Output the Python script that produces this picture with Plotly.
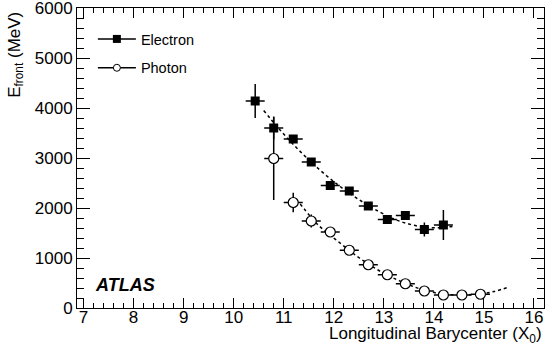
import plotly.graph_objects as go

# Electron points
ele_x = [10.43, 10.80, 11.19, 11.55, 11.93, 12.31, 12.69, 13.07, 13.43, 13.81, 14.19]
ele_y = [4140, 3600, 3380, 2920, 2450, 2340, 2040, 1770, 1850, 1570, 1660]
ele_ey = [340, 230, 80, 50, 50, 50, 60, 60, 80, 140, 300]

# Photon points
pho_x = [10.80, 11.19, 11.55, 11.93, 12.31, 12.69, 13.07, 13.43, 13.81, 14.19, 14.56, 14.93]
pho_y = [2990, 2110, 1740, 1520, 1155, 865, 665, 485, 340, 260, 260, 275]
pho_ey = [830, 195, 130, 60, 50, 40, 40, 30, 30, 30, 30, 30]

bin_half = 0.19

# fitted curves
ele_fit_x = [10.6, 10.9, 11.3, 11.7, 12.1, 12.5, 12.9, 13.2, 13.5, 13.8, 14.1, 14.37]
ele_fit_y = [3950, 3590, 3160, 2780, 2450, 2170, 1930, 1780, 1680, 1615, 1605, 1630]
pho_fit_x = [11.33, 11.7, 12.1, 12.5, 12.9, 13.3, 13.7, 14.1, 14.5, 14.9, 15.2, 15.5]
pho_fit_y = [2080, 1650, 1320, 1010, 750, 550, 390, 290, 260, 280, 330, 420]

font = "Liberation Sans, Arial, Helvetica, sans-serif"

fig = go.Figure()

fig.add_trace(go.Scatter(x=ele_fit_x, y=ele_fit_y, mode="lines", line_shape="spline",
                         line=dict(color="black", width=1.5, dash="3px,3px"), showlegend=False))
fig.add_trace(go.Scatter(x=pho_fit_x, y=pho_fit_y, mode="lines", line_shape="spline",
                         line=dict(color="black", width=1.5, dash="3px,3px"), showlegend=False))

fig.add_trace(go.Scatter(
    x=ele_x, y=ele_y, mode="markers", showlegend=False,
    marker=dict(symbol="square", size=9, color="black"),
    error_x=dict(type="constant", value=bin_half, color="black", thickness=1.5, width=0),
    error_y=dict(type="data", array=ele_ey, color="black", thickness=1.5, width=0)))
fig.add_trace(go.Scatter(
    x=pho_x, y=pho_y, mode="markers", showlegend=False,
    marker=dict(symbol="circle", size=10, color="white", line=dict(color="black", width=1.2)),
    error_x=dict(type="constant", value=bin_half, color="black", thickness=1.5, width=0),
    error_y=dict(type="data", array=pho_ey, color="black", thickness=1.5, width=0)))

# legend entries
fig.add_trace(go.Scatter(x=[None], y=[None], mode="lines+markers", name="Electron",
                         legendgroup="e", line=dict(color="black", width=1.5),
                         marker=dict(symbol="square", size=8, color="black")))
fig.add_trace(go.Scatter(x=[None], y=[None], mode="lines+markers", name="Photon",
                         legendgroup="p", line=dict(color="black", width=1.5),
                         marker=dict(symbol="circle", size=7, color="white",
                                     line=dict(color="black", width=1))))

axis_common = dict(showline=True, linecolor="black", linewidth=1, mirror="allticks",
                   ticks="inside", tickcolor="black", showgrid=False, zeroline=False,
                   automargin=False, ticklabeloverflow="allow",
                   tickfont=dict(family=font, size=17, color="black"))

fig.update_layout(
    width=554, height=352,
    margin=dict(l=77, r=10, t=8, b=44),
    paper_bgcolor="white", plot_bgcolor="white",
    font=dict(family=font, color="black"),
    xaxis=dict(range=[6.87, 16.2], tickvals=list(range(7, 17)), ticklen=10,
               ticklabelstandoff=-6,
               minor=dict(dtick=0.2, ticks="inside", ticklen=5, tickcolor="black"),
               **axis_common),
    yaxis=dict(range=[0, 6000], tickvals=list(range(0, 6001, 1000)), ticklen=13,
               minor=dict(dtick=200, ticks="inside", ticklen=7, tickcolor="black"),
               **axis_common),
    legend=dict(x=0.034, y=0.95, xanchor="left", yanchor="top", bgcolor="rgba(0,0,0,0)",
                font=dict(family=font, size=14.5, color="black"), tracegroupgap=7,
                traceorder="grouped", itemwidth=38),
    annotations=[
        dict(text="E<sub>front</sub> (MeV)", xref="paper", yref="paper", x=-0.132, y=0.995,
             xanchor="center", yanchor="top", textangle=-90, showarrow=False,
             font=dict(family=font, size=17, color="black")),
        dict(text="Longitudinal Barycenter (X<sub>0</sub>)", xref="paper", yref="paper",
             x=1.0, y=-0.047, xanchor="right", yanchor="top", showarrow=False,
             font=dict(family=font, size=17, color="black")),
        dict(text="<b><i>ATLAS</i></b>", xref="paper", yref="paper", x=0.034, y=0.077,
             xanchor="left", yanchor="middle", showarrow=False,
             font=dict(family=font, size=18, color="black")),
    ],
)

fig.write_html("out.html", config={"displayModeBar": False},
               post_script="document.body.style.margin='0';")
